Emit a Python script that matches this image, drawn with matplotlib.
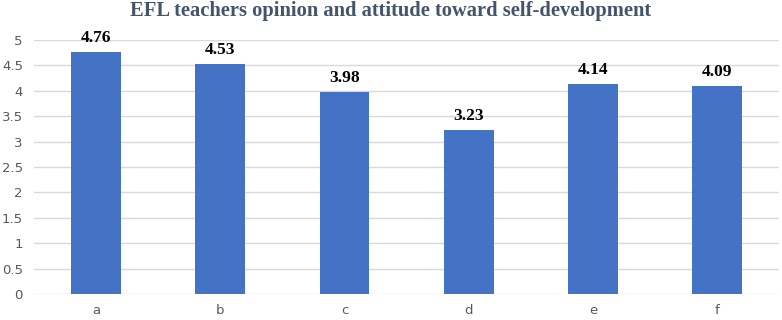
import matplotlib
matplotlib.use("Agg")
import matplotlib.pyplot as plt

categories = ["a", "b", "c", "d", "e", "f"]
values = [4.76, 4.53, 3.98, 3.23, 4.14, 4.09]
yticks = [0, 0.5, 1, 1.5, 2, 2.5, 3, 3.5, 4, 4.5, 5]
ytick_labels = ["0", "0.5", "1", "1.5", "2", "2.5", "3", "3.5", "4", "4.5", "5"]
title = "EFL teachers opinion and attitude toward self-development"

fig = plt.figure(figsize=(7.82, 3.2), dpi=100)
ax = fig.add_axes([0.0435, 0.081, 0.953, 0.794])

x = list(range(len(categories)))
bars = ax.bar(x, values, width=0.4, color="#4472C4", zorder=3)
for xi, v in zip(x, values):
    ax.text(xi, v + 0.12, f"{v:.2f}", ha="center", va="bottom",
            fontfamily="Liberation Serif", fontweight="bold", fontsize=12.5, color="black")

ax.set_xlim(-0.5, len(categories) - 0.5)
ax.set_ylim(0, 5)
ax.set_yticks(yticks)
ax.set_yticklabels(ytick_labels)
ax.set_xticks(x)
ax.set_xticklabels(categories)
ax.grid(axis="y", color="#D9D9D9", linewidth=1, zorder=0)
for s in ax.spines.values():
    s.set_visible(False)
ax.tick_params(axis="both", length=0, labelsize=9.5, labelcolor="#595959")
ax.tick_params(axis="x", pad=7)
ax.tick_params(axis="y", pad=8)

fig.text(0.5, 0.965, title, ha="center", va="center",
         fontfamily="Liberation Serif", fontweight="bold", fontsize=14.8, color="#44546A")

fig.savefig("out.png", dpi=100)
